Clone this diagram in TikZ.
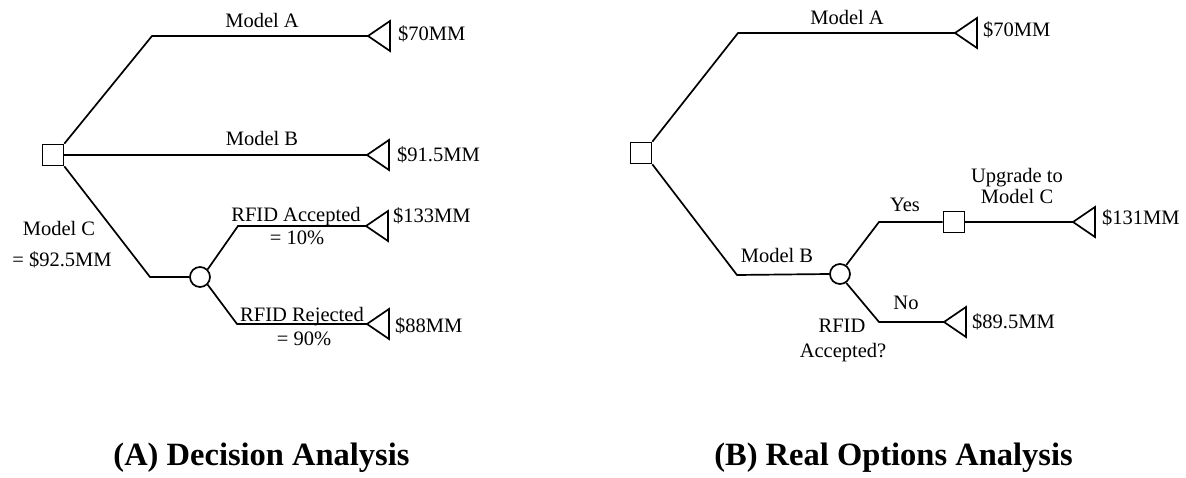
\documentclass[tikz,border=0pt]{standalone}
\usepackage{fontspec}
\setmainfont{Liberation Serif}
\begin{document}
\begin{tikzpicture}[x=1pt,y=-1pt,
  conn/.style={line width=1.7pt, line join=miter},
  decbox/.style={draw, line width=1.7pt, rectangle, minimum size=21pt, inner sep=0pt},
  chance/.style={draw, line width=1.7pt, circle, minimum size=20pt, inner sep=0pt},
  lbl/.style={inner sep=0pt, font=\fontsize{20.5}{23}\selectfont, anchor=base},
  val/.style={lbl, anchor=base west},
  captxt/.style={inner sep=0pt, font=\fontsize{32.5}{35}\selectfont\bfseries, anchor=base}
]
\useasboundingbox (0,0) rectangle (1186,478);
\newcommand{\leaf}[1]{\draw[conn] (#1) -- ++(22,-15) -- ++(0,30) -- cycle;}

% ---------- (A) Decision Analysis ----------
\node[decbox] (dA) at (53,155) {};
\coordinate (aA) at (152,36);
\coordinate (tA) at (368,36);
\coordinate (tB) at (367,155);
\coordinate (aC) at (150,277);
\node[chance] (cA) at (200,277) {};
\coordinate (aY) at (238,226);
\coordinate (tY) at (366,226);
\coordinate (aN) at (237,324);
\coordinate (tN) at (367,324);

\draw[conn] (dA.north east) -- (aA) -- (tA);
\draw[conn] (dA.east) -- (tB);
\draw[conn] (dA.south east) -- (aC) -- (cA.west);
\draw[conn] (cA.45) -- (aY) -- (tY);
\draw[conn] (cA.-45) -- (aN) -- (tN);
\leaf{tA}\leaf{tB}\leaf{tY}\leaf{tN}

\node[lbl] (lA1) at (262,28) {Model A};
\node[lbl] (lB1) at (262,146) {Model B};
\node[val] (vA1) at (398,41) {\$70MM};
\node[val] (vB1) at (397,162) {\$91.5MM};
\node[lbl] (lY1) at (296,222) {RFID Accepted};
\node[lbl] (pY1) at (297,245) {= 10\%};
\node[val] (vY1) at (393,223) {\$133MM};
\node[lbl] (lN1) at (302,321) {RFID Rejected};
\node[lbl] (pN1) at (304,345) {= 90\%};
\node[val] (vN1) at (395,332) {\$88MM};
\node[lbl] (lC1) at (59,236) {Model C};
\node[lbl] (eC1) at (62,267) {= \$92.5MM};

% ---------- (B) Real Options Analysis ----------
\node[decbox] (dB) at (641,153) {};
\coordinate (bA) at (738,33);
\coordinate (sA) at (955,33);
\coordinate (bB) at (737,275);
\node[chance] (cB) at (840,274) {};
\coordinate (bY) at (879,222);
\node[decbox] (uB) at (954,222) {};
\coordinate (sU) at (1073,222);
\coordinate (bN) at (879,322);
\coordinate (sN) at (944,322);

\draw[conn] (dB.north east) -- (bA) -- (sA);
\draw[conn] (dB.south east) -- (bB) -- (cB.west);
\draw[conn] (cB.55) -- (bY) -- (uB.west);
\draw[conn] (uB.east) -- (sU);
\draw[conn] (cB.-55) -- (bN) -- (sN);
\leaf{sA}\leaf{sU}\leaf{sN}

\node[lbl] (lA2) at (847,25) {Model A};
\node[val] (vA2) at (983,37) {\$70MM};
\node[lbl] (lB2) at (777,263) {Model B};
\node[lbl] (q1) at (842,333) {RFID};
\node[lbl] (q2) at (843,357) {Accepted?};
\node[lbl] (yes) at (905,212) {Yes};
\node[lbl] (u1) at (1017,183) {Upgrade to};
\node[lbl] (u2) at (1017,204) {Model C};
\node[val] (vU) at (1102,225) {\$131MM};
\node[lbl] (no) at (906,309) {No};
\node[val] (vN2) at (972,328) {\$89.5MM};

% ---------- captions ----------
\node[captxt] (capA) at (261.5,465) {(A) Decision Analysis};
\node[captxt] (capB) at (893.5,465) {(B) Real Options Analysis};
\end{tikzpicture}
\end{document}
